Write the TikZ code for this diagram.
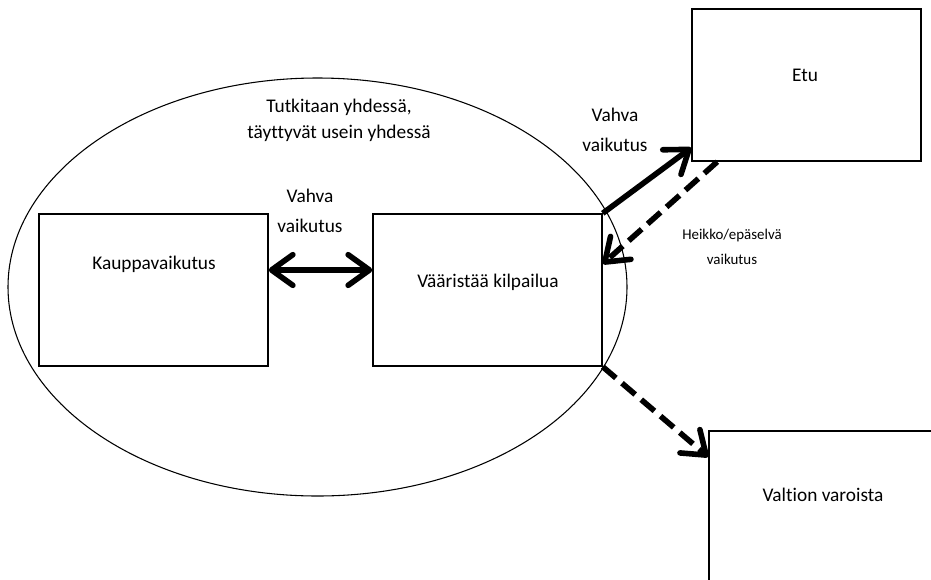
\documentclass[tikz,border=0pt]{standalone}
\usepackage{fontspec}
\setmainfont{Carlito}[Ligatures=CommonOff]
\usetikzlibrary{arrows.meta,shapes.geometric}

\tikzset{
  barb/.tip={Straight Barb[length=16pt,width=23pt,round]},
  box/.style={draw, line width=1.1pt, minimum width=171.75pt, minimum height=114pt, inner sep=0pt},
  txt/.style={font=\fontsize{14.5}{22.5}\selectfont, align=center, inner sep=0pt},
  small/.style={font=\fontsize{11.2}{19}\selectfont, align=center, inner sep=0pt},
  strong/.style={line width=4.2pt, -barb},
  weak/.style={strong, dash pattern=on 13pt off 6pt}
}

\begin{document}
\begin{tikzpicture}[x=0.75pt,y=-0.75pt]
    \useasboundingbox (0,0) rectangle (931,579);
    \clip (0,0) rectangle (931,579);

    \node[draw, ellipse, line width=0.8pt, minimum width=464.25pt, minimum height=313.5pt, inner sep=0pt] (yhdessa) at (317.5,287) {};
    \node[txt] (yhdessaT) at (339,120) {Tutkitaan yhdessä,\\[-3pt]täyttyvät usein yhdessä};

    \node[box] (kauppa) at (153.5,290) {};
    \node[box] (vaar) at (487.5,290) {};
    \node[box] (etu) at (806.5,85) {};
    \node[box] (valtion) at (823.5,507) {};

    \node[txt] (kauppaT) at (154,264) {Kauppavaikutus};
    \node[txt] (vaarT) at (488,282) {Vääristää kilpailua};
    \node[txt] (etuT) at (805,75) {Etu};
    \node[txt] (valtionT) at (823,495) {Valtion varoista};

    % vahvat vaikutukset
    \draw[strong, barb-barb] ([yshift=15pt]kauppa.east) -- ([yshift=15pt]vaar.west);
    \node[txt] (vahva1) at (310,211) {Vahva\\vaikutus};
    \draw[strong] (vaar.north east) -- ([yshift=10.5pt]etu.south west);
    \node[txt] (vahva2) at (615,130) {Vahva\\vaikutus};

    % heikot vaikutukset
    \draw[weak] ([xshift=19.5pt]etu.south west) -- ([yshift=-38pt]vaar.north east);
    \node[small] (heikko) at (732,247) {Heikko/epäselvä\\vaikutus};
    \draw[weak] (vaar.south east) -- ([yshift=-20pt]valtion.north west);
\end{tikzpicture}
\end{document}
